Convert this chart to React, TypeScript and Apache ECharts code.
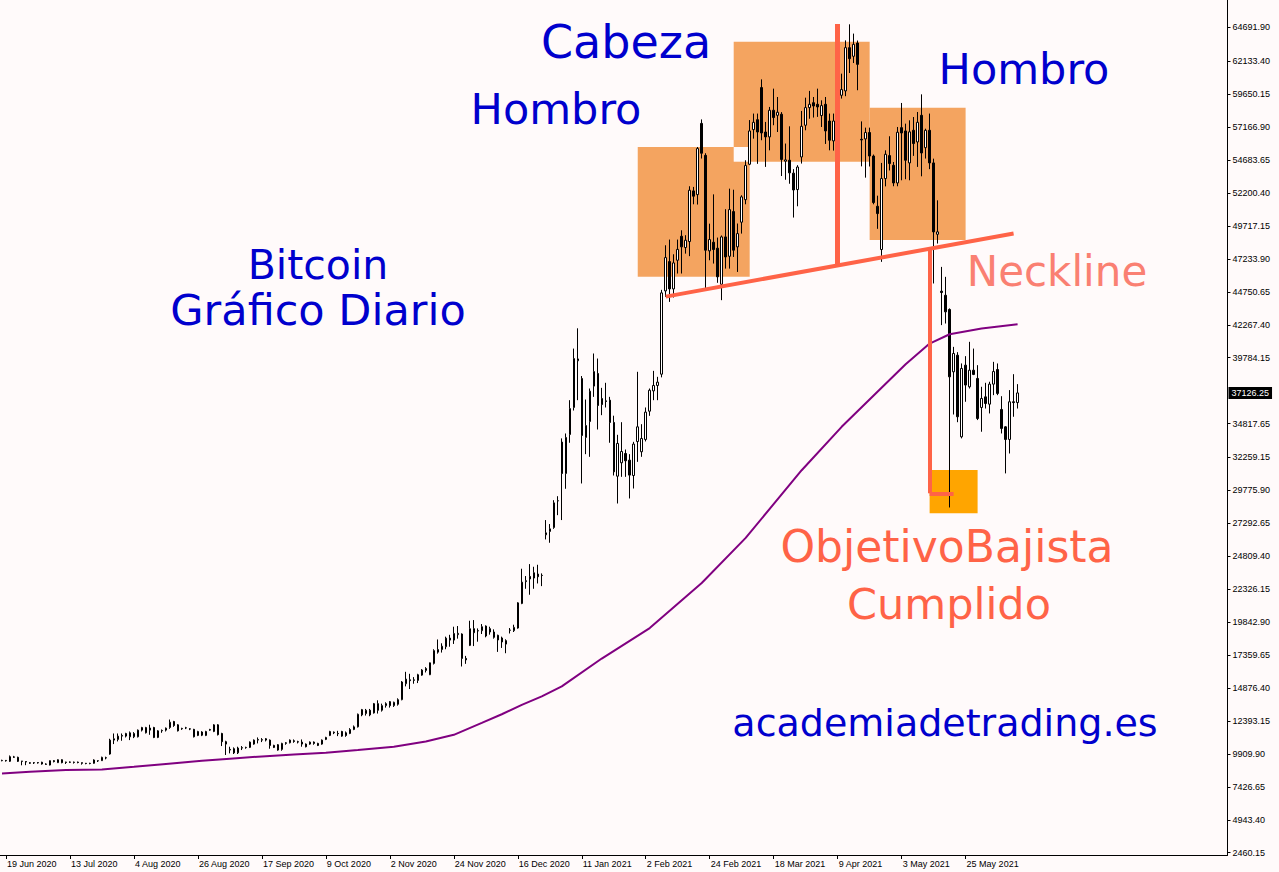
import React, { useEffect, useRef } from "react";
import * as echarts from "echarts";

// ---- Daily bars (weekdays only), 18 Jun 2020 .. 11 Jun 2021 ----
const opens = [
  9400, 9420, 9350, 9650, 9650, 9370, 9330, 9200, 9250, 9230, 9280, 9150, 9070, 9400, 9250, 9470, 9260, 9300, 9260, 9290,
  9250, 9200, 9180, 9200, 9380, 9400, 9620, 9900, 10950, 11000, 11250, 11250, 11200, 11200, 11200, 11700, 11500, 11700, 11900, 11150,
  11650, 11700, 11900, 12350, 12100, 11800, 11860, 11800, 11760, 11300, 11560, 11300, 11700, 11600, 12100, 11450, 10830, 10250, 10300, 9990,
  10350, 10380, 10400, 10650, 10950, 10980, 11050, 10950, 10550, 10600, 10250, 10700, 10750, 10900, 10830, 10800, 10650, 10650, 10800, 10700,
  10650, 11000, 11300, 11550, 11450, 11600, 11500, 11450, 11750, 11950, 12850, 12950, 13200, 13000, 13700, 13200, 13550, 13850, 13550, 13650,
  14000, 15200, 15500, 15450, 15450, 15850, 16200, 15880, 16730, 17580, 17780, 17990, 18640, 18490, 18900, 18950, 17110, 18090, 19350, 19200,
  19200, 19550, 19350, 19100, 18850, 18650, 18450, 19230, 19200, 19400, 21250, 22900, 23290, 23170, 23470, 23360, 26430, 26680, 26980, 28990,
  33420, 31050, 33990, 36030, 39550, 38210, 33770, 34970, 37640, 38590, 36700, 36530, 36580, 34900, 30850, 31860, 32560, 32060, 30900, 33460,
  32690, 33620, 35750, 37280, 37690, 38540, 44820, 47030, 44970, 47130, 48940, 48090, 48540, 52360, 52080, 57450, 55040, 47840, 48490, 48040,
  45320, 48890, 47430, 50800, 48140, 50000, 51700, 54370, 56980, 57730, 60150, 56800, 56430, 58440, 58060, 58140, 54600, 54670, 53700, 52460,
  54920, 57310, 58640, 59010, 58890, 58040, 58890, 57630, 56130, 57630, 59570, 59900, 63160, 62510, 63510, 56250, 56280, 56760, 54990, 51200,
  47940, 53290, 55020, 54290, 52960, 57130, 56880, 54470, 56930, 56050, 58060, 55620, 56930, 54470, 49090, 44800, 44490, 43420, 38720, 39970,
  33820, 39220, 37590, 38840, 38220, 36030, 36830, 36280, 37790, 38890, 35880, 34570, 33620, 36460, 36400,
];
const highs = [
  9470, 9450, 9790, 9760, 9700, 9380, 9350, 9300, 9290, 9300, 9320, 9200, 9420, 9440, 9500, 9500, 9320, 9340, 9330, 9330,
  9260, 9230, 9240, 9500, 9420, 9700, 9700, 11050, 11450, 11450, 11450, 11500, 11600, 11550, 11750, 11950, 11950, 12110, 11950, 11700,
  11750, 11900, 12500, 12400, 12150, 11880, 11950, 11850, 11800, 11650, 11620, 11650, 11800, 12150, 12150, 11500, 10900, 10450, 10400, 10450,
  10500, 10450, 10850, 11000, 11150, 11100, 11100, 11000, 10600, 10650, 10750, 10800, 11000, 11000, 10900, 11000, 10700, 10850, 10850, 10750,
  11000, 11200, 11650, 11600, 11650, 11650, 11600, 11850, 12050, 12950, 13300, 13300, 13300, 13750, 13950, 13700, 13800, 13900, 13850, 14100,
  15400, 16100, 15950, 15700, 15950, 16300, 16450, 16800, 17800, 18540, 18250, 18750, 18890, 19500, 19550, 19000, 17300, 19950, 20000, 19370,
  19700, 19600, 19500, 19300, 18900, 18750, 18550, 19400, 19650, 21350, 23870, 23320, 24220, 24020, 24170, 23520, 27540, 27240, 29040, 29340,
  33700, 34070, 36580, 40470, 42000, 38400, 36630, 37460, 40100, 39720, 37510, 37890, 36830, 35410, 33970, 34920, 32860, 32510, 33440, 38720,
  34770, 36030, 37460, 38790, 38340, 44900, 48260, 48690, 47580, 48690, 49390, 49020, 52710, 52660, 55670, 57750, 55200, 49890, 52100, 48840,
  49000, 50980, 52530, 52450, 49900, 52030, 54670, 57700, 58190, 58190, 60770, 57560, 58690, 60070, 59440, 58300, 55930, 57230, 54000, 54300,
  58390, 59390, 59900, 59440, 60070, 59190, 59440, 58190, 58190, 58500, 61200, 63710, 64920, 64220, 63700, 57600, 57130, 57130, 55100, 52000,
  54470, 55420, 56480, 54540, 57180, 58990, 57430, 57680, 57930, 58310, 59640, 57050, 58190, 54790, 51650, 46630, 45880, 43500, 40600, 40200,
  39350, 39900, 40980, 40470, 39220, 37590, 37890, 37970, 39470, 39350, 36880, 34620, 37340, 38540, 37790,
];
const lows = [
  9350, 9330, 9300, 9600, 9300, 9050, 9060, 9150, 9150, 9180, 9100, 9080, 9040, 9270, 9220, 9200, 9150, 9220, 9180, 9200,
  9100, 9130, 9130, 9170, 9300, 9380, 9500, 9850, 10650, 10850, 10900, 11150, 10950, 11100, 11150, 11600, 11450, 11350, 11100, 11100,
  11500, 11600, 11800, 11950, 11600, 11720, 11780, 11700, 11150, 11250, 11250, 11250, 11650, 11550, 11300, 10500, 9830, 9950, 9900, 9900,
  10200, 10300, 10350, 10600, 10700, 10800, 10850, 10300, 10350, 10150, 10150, 10600, 10700, 10750, 10700, 10450, 10400, 10600, 10600, 10500,
  10600, 10950, 11250, 11400, 11250, 11200, 11200, 11400, 11700, 11900, 12750, 12800, 12750, 12950, 12950, 13100, 13400, 13400, 13450, 13550,
  13950, 15000, 14800, 15200, 15250, 15800, 16050, 15850, 16650, 17470, 17550, 17800, 17990, 18200, 18600, 16500, 16700, 18040, 18040, 18370,
  18950, 18700, 18900, 18600, 17600, 17900, 17500, 18990, 19100, 19350, 21200, 22360, 21910, 22360, 22760, 22560, 26080, 25830, 26880, 27910,
  27540, 29900, 33370, 35800, 36580, 30300, 32510, 32310, 36830, 34370, 35450, 36030, 33370, 30900, 28790, 30800, 30800, 29170, 29920, 31930,
  32310, 33470, 35400, 36580, 36580, 38300, 44370, 43990, 44320, 46130, 46130, 47630, 47440, 51350, 51330, 54800, 45000, 47130, 46880, 45430,
  44120, 46500, 46500, 47380, 46250, 49140, 51350, 54300, 56300, 54400, 56180, 54170, 55420, 57310, 56800, 53480, 53200, 52900, 50350, 51200,
  54420, 56930, 57800, 57890, 57940, 57180, 55900, 55420, 55400, 57000, 59320, 59500, 61250, 62000, 59950, 54210, 53360, 54200, 51350, 49500,
  47010, 52700, 53900, 52710, 52710, 53160, 53240, 53160, 55000, 54170, 53460, 54800, 54000, 45380, 48390, 42240, 42360, 28490, 35500, 34920,
  33700, 36460, 37460, 38470, 35080, 34200, 35950, 35580, 36960, 36960, 34070, 31060, 32560, 35330, 35950,
];
const closes = [
  9420, 9390, 9700, 9690, 9350, 9350, 9300, 9250, 9230, 9260, 9150, 9120, 9400, 9330, 9470, 9250, 9300, 9280, 9290, 9260,
  9200, 9180, 9200, 9450, 9400, 9650, 9600, 10950, 11050, 11250, 11300, 11450, 11500, 11450, 11700, 11900, 11900, 11860, 11150, 11650,
  11680, 11850, 12300, 12050, 11650, 11830, 11880, 11780, 11200, 11600, 11320, 11600, 11750, 12100, 11360, 10830, 10650, 10200, 9990, 10350,
  10380, 10400, 10800, 10950, 11000, 10950, 10950, 10550, 10400, 10200, 10700, 10750, 10950, 10850, 10800, 10650, 10450, 10800, 10700, 10550,
  10950, 11150, 11600, 11500, 11430, 11250, 11300, 11750, 11950, 12900, 13250, 13200, 12850, 13700, 13200, 13550, 13700, 13550, 13800, 14000,
  15330, 15550, 15430, 15500, 15880, 16230, 16350, 16780, 17700, 17780, 18030, 18640, 18490, 18990, 19000, 17110, 17000, 19350, 19050, 19180,
  19500, 18800, 19100, 18700, 18500, 18350, 18190, 19250, 19450, 21300, 22860, 22970, 23100, 23570, 23270, 23370, 26580, 26880, 28840, 29000,
  31050, 33770, 35950, 39720, 39690, 33920, 34670, 37260, 38740, 36180, 36250, 36480, 34900, 31180, 33320, 32710, 32010, 30930, 33270, 34570,
  33690, 35680, 37330, 37690, 37940, 44670, 47330, 44970, 46930, 47950, 48140, 48640, 52410, 51960, 55550, 55200, 47890, 48690, 47940, 45880,
  48890, 47380, 50950, 47890, 49140, 51910, 54270, 56880, 57530, 56800, 56730, 56430, 58440, 57890, 58290, 54730, 54700, 53720, 52430, 54160,
  57230, 58640, 58890, 58760, 58690, 58790, 56880, 56180, 57630, 58100, 60000, 63160, 62330, 63410, 61900, 56200, 56760, 54990, 51480, 50650,
  53290, 55120, 54420, 52960, 56780, 56730, 54670, 56810, 55930, 57530, 55220, 56930, 54470, 49270, 49270, 44700, 43240, 38340, 40100, 35330,
  38970, 37720, 38840, 38520, 35200, 36710, 36330, 37790, 38740, 37090, 34450, 33620, 36460, 36400, 37126.25,
];

// Purple moving average, read at a few bars
const maBars = [0, 7, 16, 25, 33, 41, 50, 57, 64, 73, 81, 89, 98, 106, 113, 120, 125, 130, 135, 140, 150, 162, 175, 186, 200, 210, 218, 226, 232, 237, 245, 254];
const maValues = [8440, 8560, 8690, 8740, 8940, 9150, 9390, 9550, 9700, 9870, 10000, 10200, 10450, 10850, 11350, 12250, 12900, 13600, 14250, 15000, 17100, 19400, 22800, 26200, 31300, 34570, 36930, 39290, 40850, 41550, 41980, 42300];

// Price axis tick labels (the 37300.90 one is covered by the current price box)
const yTickValues = [
  2460.15, 4943.4, 7426.65, 9909.9, 12393.15, 14876.4, 17359.65, 19842.9, 22326.15, 24809.4, 27292.65, 29775.9, 32259.15,
  34817.65, 39784.15, 42267.4, 44750.65, 47233.9, 49717.15, 52200.4, 54683.65, 57166.9, 59650.15, 62133.4, 64691.9,
];
const currentPrice = 37126.25;

const MONTHS = ["Jan", "Feb", "Mar", "Apr", "May", "Jun", "Jul", "Aug", "Sep", "Oct", "Nov", "Dec"];
const HOLIDAYS = ["2020-12-25", "2021-01-01"];
const TOTAL_SLOTS = 307;
const LABEL_EVERY = 16;
const LABEL_FIRST = 1;

function buildCategories(): string[] {
  const out: string[] = [];
  const d = new Date(Date.UTC(2020, 5, 18));
  while (out.length < TOTAL_SLOTS) {
    const wd = d.getUTCDay();
    const iso = d.toISOString().slice(0, 10);
    if (wd !== 0 && wd !== 6 && HOLIDAYS.indexOf(iso) < 0) {
      out.push(`${d.getUTCDate()} ${MONTHS[d.getUTCMonth()]} ${d.getUTCFullYear()}`);
    }
    d.setUTCDate(d.getUTCDate() + 1);
  }
  return out;
}

const textStyle = (text: string, fill: string, size: number) => ({
  text,
  fill,
  font: `${size}px "DejaVu Sans"`,
  textAlign: "center",
  textVerticalAlign: "middle",
  align: "center",
  verticalAlign: "middle",
});

export default function App() {
  const ref = useRef<HTMLDivElement>(null);

  useEffect(() => {
    document.body.style.margin = "0";
    document.body.style.background = "#FFFAFA";
    if (!ref.current) return;
    const chart = echarts.init(ref.current, undefined, { renderer: "svg" });
    const categories = buildCategories();
    const lastBar = opens.length - 1;
    const showLabel = (i: number) => i <= lastBar && i >= LABEL_FIRST && (i - LABEL_FIRST) % LABEL_EVERY === 0;
    const candleData = opens.map((o, i) => [o, closes[i], lows[i], highs[i]]);
    const maData = maBars.map((k, i) => [k, maValues[i]]);

    const redLine = (w: number) => ({ color: "#FF6347", width: w, type: "solid" as const, opacity: 1 });

    const option: any = {
      animation: false,
      backgroundColor: "#FFFAFA",
      grid: { left: -0.5, right: 51.5, top: 0, bottom: 17, containLabel: false },
      xAxis: {
        type: "category",
        data: categories,
        boundaryGap: true,
        axisLine: { show: true, lineStyle: { color: "#000", width: 1 } },
        axisTick: { show: true, alignWithLabel: true, interval: (i: number) => showLabel(i), length: 4, lineStyle: { color: "#000" } },
        axisLabel: {
          interval: (i: number) => showLabel(i),
          align: "left",
          padding: [0, 0, 0, 1],
          margin: 4,
          fontSize: 9,
          fontFamily: "Liberation Sans",
          color: "#000",
          hideOverlap: false,
        },
        splitLine: { show: false },
      },
      yAxis: {
        type: "value",
        position: "right",
        min: 2286.7,
        max: 66753.7,
        scale: true,
        axisLine: { show: true, lineStyle: { color: "#000", width: 1 } },
        axisTick: { show: true, length: 3, customValues: yTickValues, lineStyle: { color: "#000" } },
        axisLabel: {
          customValues: yTickValues,
          formatter: (v: number) => v.toFixed(2),
          margin: 5,
          fontSize: 9,
          fontFamily: "Liberation Sans",
          color: "#000",
        },
        splitLine: { show: false },
      },
      series: [
        {
          type: "candlestick",
          data: candleData,
          barWidth: 2,
          z: 3,
          itemStyle: {
            color: "#FFFFFF",
            color0: "#000000",
            borderColor: "#000000",
            borderColor0: "#000000",
            borderColorDoji: "#000000",
            borderWidth: 1,
          },
          markArea: {
            silent: true,
            z: 1,
            label: { show: false },
            data: [
              [{ coord: [159, 55670], itemStyle: { color: "#F4A460", opacity: 1 } }, { coord: [187, 45890] }],
              [{ coord: [183, 63610], itemStyle: { color: "#F4A460", opacity: 1 } }, { coord: [217, 54560] }],
              [{ coord: [217, 58633], itemStyle: { color: "#F4A460", opacity: 1 } }, { coord: [241, 48658] }],
              [{ coord: [183, 55670], itemStyle: { color: "#FFFAFA", opacity: 1 } }, { coord: [187, 54560] }],
              [{ coord: [232, 31316], itemStyle: { color: "#FFA500", opacity: 1 } }, { coord: [244, 28051] }],
            ],
          },
          markLine: {
            silent: true,
            symbol: ["none", "none"],
            z: 6,
            label: { show: false },
            data: [
              [{ coord: [166, 44390], lineStyle: redLine(4) }, { coord: [253, 49144] }],
              [{ coord: [209, 64950], lineStyle: redLine(5) }, { coord: [209, 46740] }],
              [{ coord: [232, 47998], lineStyle: redLine(4) }, { coord: [232, 29560] }],
              [{ coord: [232, 29560], lineStyle: redLine(4) }, { coord: [238, 29560] }],
            ],
          },
        },
        {
          type: "line",
          data: maData,
          symbol: "none",
          smooth: false,
          z: 4,
          lineStyle: { color: "#800080", width: 2 },
          markLine: {
            silent: true,
            symbol: ["none", "none"],
            z: 7,
            data: [
              {
                yAxis: currentPrice,
                lineStyle: { color: "rgba(0,0,0,0)", width: 0 },
                label: {
                  show: true,
                  position: "end",
                  distance: 1,
                  formatter: currentPrice.toFixed(2),
                  backgroundColor: "#000000",
                  color: "#FFFFFF",
                  padding: [2, 3, 1, 3],
                  fontSize: 9,
                  fontFamily: "Liberation Sans",
                },
              },
            ],
          },
        },
      ],
      graphic: [
        { type: "text", x: 626, y: 42, z: 10, style: textStyle("Cabeza", "#0000CD", 46) },
        { type: "text", x: 556, y: 109, z: 10, style: textStyle("Hombro", "#0000CD", 43) },
        { type: "text", x: 1024, y: 69, z: 10, style: textStyle("Hombro", "#0000CD", 43) },
        { type: "text", x: 318, y: 265, z: 10, style: textStyle("Bitcoin", "#0000CD", 41) },
        { type: "text", x: 318, y: 310, z: 10, style: textStyle("Gráfico Diario", "#0000CD", 43) },
        { type: "text", x: 1057, y: 271, z: 10, style: textStyle("Neckline", "#FA8072", 42) },
        { type: "text", x: 947, y: 546, z: 10, style: textStyle("ObjetivoBajista", "#FF6347", 44) },
        { type: "text", x: 949, y: 604, z: 10, style: textStyle("Cumplido", "#FF6347", 43) },
        { type: "text", x: 945, y: 723, z: 10, style: textStyle("academiadetrading.es", "#0000CD", 38) },
      ],
    };

    chart.setOption(option);
    return () => {
      chart.dispose();
    };
  }, []);

  return (
    <div
      ref={ref}
      style={{ position: "fixed", left: 0, top: 0, width: 1279, height: 872, background: "#FFFAFA" }}
    />
  );
}
